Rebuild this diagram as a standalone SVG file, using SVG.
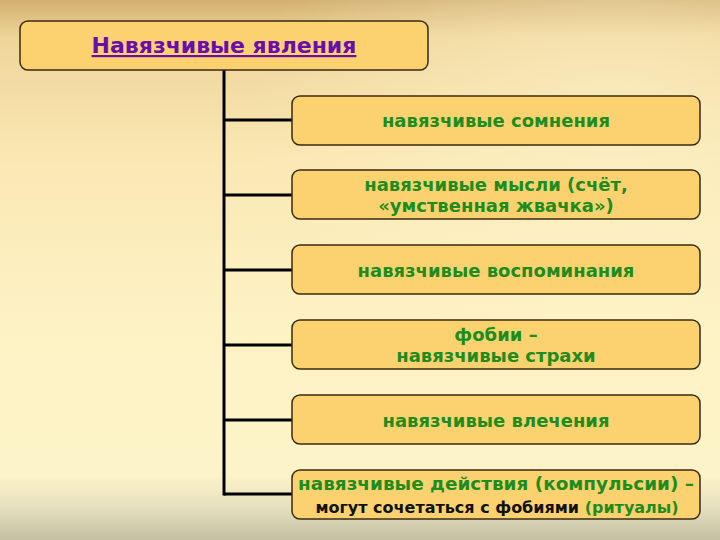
<svg xmlns="http://www.w3.org/2000/svg" width="720" height="540" viewBox="0 0 720 540">
<defs>
<linearGradient id="bg" x1="0" y1="0" x2="0" y2="1">
<stop offset="0" stop-color="#D3B071"/>
<stop offset="0.07" stop-color="#EFD59A"/>
<stop offset="0.3" stop-color="#FAE8B4"/>
<stop offset="0.6" stop-color="#FDF2C4"/>
<stop offset="0.88" stop-color="#FCF3C8"/>
<stop offset="0.94" stop-color="#E6E0BE"/>
<stop offset="1" stop-color="#C4BFA2"/>
</linearGradient>
<radialGradient id="glow" cx="0.85" cy="0.2" r="0.5">
<stop offset="0" stop-color="#FFF6D0" stop-opacity="0.5"/>
<stop offset="1" stop-color="#FFF6D0" stop-opacity="0"/>
</radialGradient>
<style>
.box{fill:#FCD270;stroke:#3A2A12;stroke-width:1.5}
.conn{stroke:#000;stroke-width:3;fill:none}
.t{font-family:"DejaVu Sans",Verdana,sans-serif;font-weight:bold;text-anchor:middle;fill:#1E8C1E}
.t18{font-size:18px}
.t16{font-size:16px}
.title{font-family:"DejaVu Sans",Verdana,sans-serif;font-weight:bold;font-size:22px;text-anchor:middle;fill:#6A0DAD;text-decoration:underline}
</style>
</defs>
<rect width="720" height="540" fill="url(#bg)"/>
<rect width="720" height="540" fill="url(#glow)"/>
<g id="connectors">
<path class="conn" d="M224 70 V495.5"/>
<path class="conn" d="M224 120 H292 M224 195 H292 M224 270 H292 M224 345 H292 M224 420 H292 M224 494 H292"/>
</g>
<g id="root">
<rect class="box" x="20" y="21" width="408" height="49" rx="8"/>
<text class="title" x="224" y="53">Навязчивые явления</text>
</g>
<g id="n1">
<rect class="box" x="292" y="96" width="408" height="49" rx="8"/>
<text class="t t18" x="496" y="127">навязчивые сомнения</text>
</g>
<g id="n2">
<rect class="box" x="292" y="170" width="408" height="49" rx="8"/>
<text class="t t18" x="496" y="191">навязчивые мысли (счёт,</text>
<text class="t t18" x="496" y="212">«умственная жвачка»)</text>
</g>
<g id="n3">
<rect class="box" x="292" y="245" width="408" height="49" rx="8"/>
<text class="t t18" x="496" y="277">навязчивые воспоминания</text>
</g>
<g id="n4">
<rect class="box" x="292" y="320" width="408" height="49" rx="8"/>
<text class="t t18" x="496" y="341">фобии –</text>
<text class="t t18" x="496" y="362">навязчивые страхи</text>
</g>
<g id="n5">
<rect class="box" x="292" y="395" width="408" height="49" rx="8"/>
<text class="t t18" x="496" y="427">навязчивые влечения</text>
</g>
<g id="n6">
<rect class="box" x="292" y="470" width="408" height="49" rx="8"/>
<text class="t t18" x="496" y="490" textLength="396" lengthAdjust="spacingAndGlyphs">навязчивые действия (компульсии) –</text>
<text class="t t16" x="497" y="513"><tspan fill="#111">могут сочетаться с фобиями</tspan> (ритуалы)</text>
</g>
</svg>
